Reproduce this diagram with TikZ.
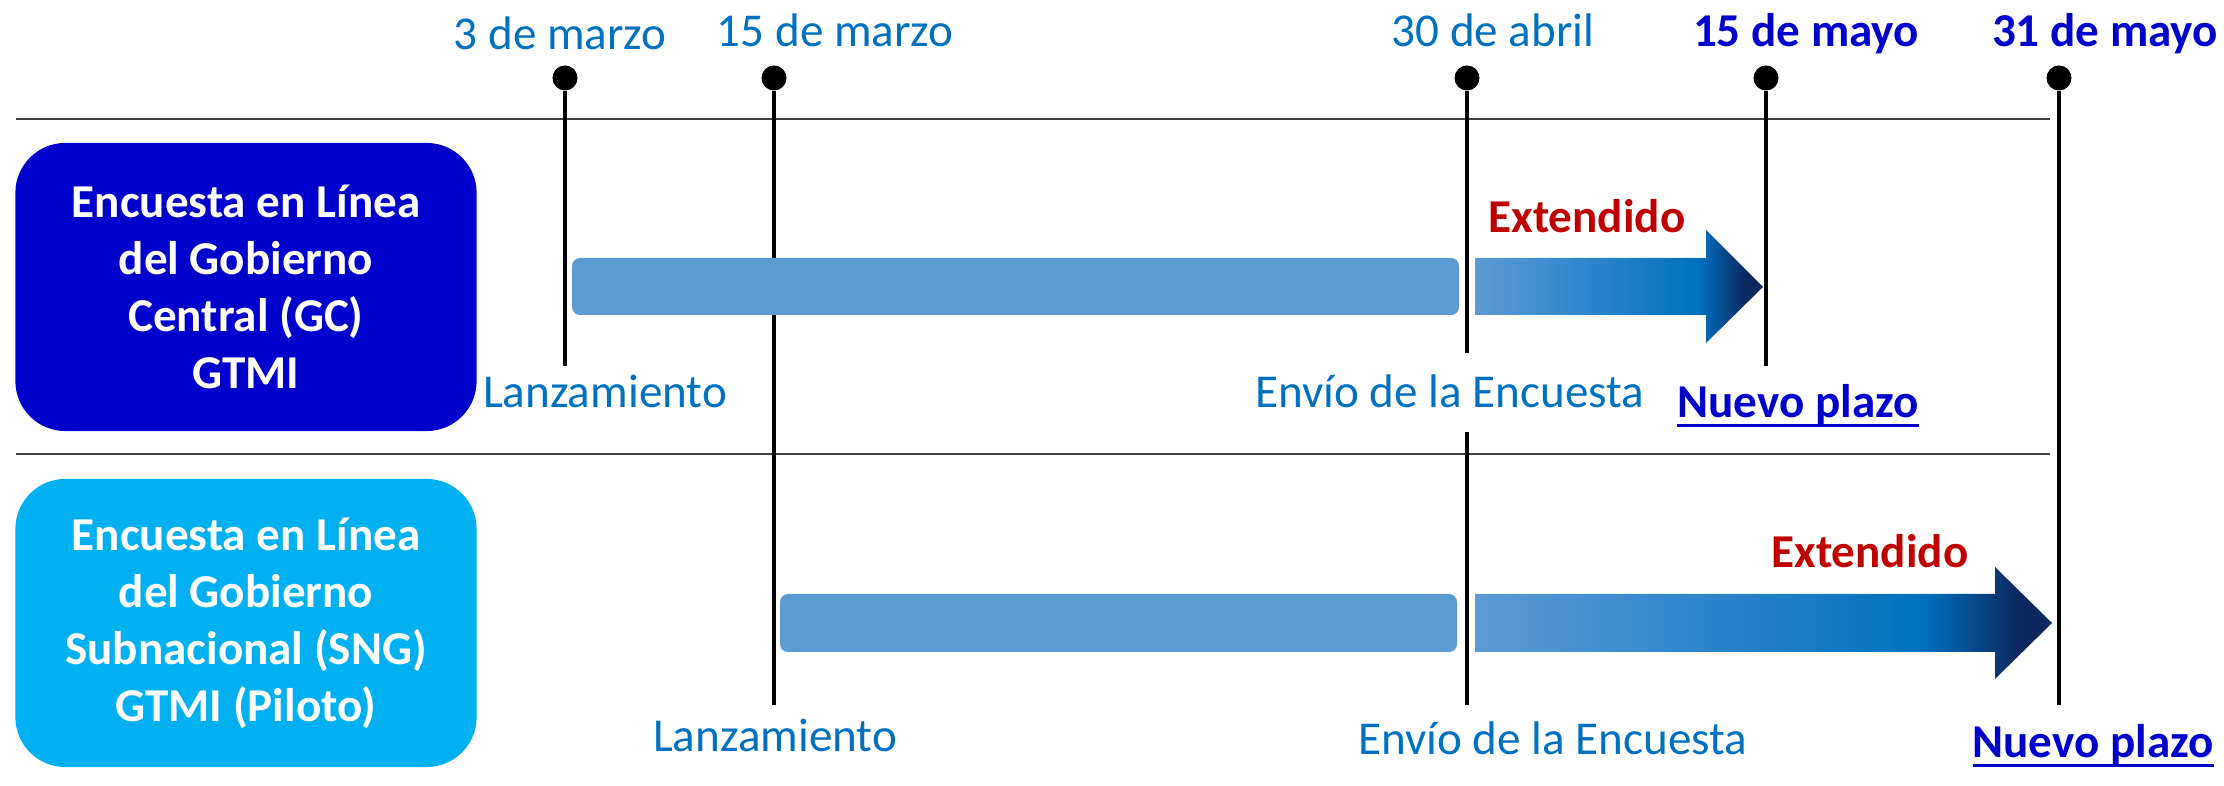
\documentclass[tikz,border=0pt]{standalone}
\usepackage{fontspec}
\setmainfont{Carlito}
\usepackage{tikz}
\definecolor{gcblue}{RGB}{0,0,204}
\definecolor{sngblue}{RGB}{0,176,240}
\definecolor{datecol}{RGB}{0,112,192}
\definecolor{barblue}{RGB}{91,155,213}
\definecolor{navy}{RGB}{12,40,94}
\definecolor{extred}{RGB}{192,0,0}
\usetikzlibrary{calc}
\newcommand*{\lblsize}{\fontsize{13.4pt}{16.2pt}\selectfont}
\newcommand*{\uln}[1]{\setbox0\hbox{#1}\rlap{\rule[-2.6pt]{\wd0}{0.9pt}}\box0}
\pgfdeclarehorizontalshading{extshade}{100bp}{color(0bp)=(barblue); color(25bp)=(barblue);
  color(64bp)=(datecol); color(72bp)=(navy); color(100bp)=(navy)}
\tikzset{%
  survey/.style={rectangle, rounded corners=5mm, minimum width=4.61cm, minimum height=2.88cm,
    text=white, align=center, font=\lblsize\bfseries},% survey boxes on the left
  pin/.style={circle, fill=black, inner sep=0pt, minimum size=2.5mm},% date marker
  tline/.style={line width=0.9pt},% date line
  sepline/.style={line width=0.6pt, draw=black!75},% row separator
  datelab/.style={anchor=base, inner sep=0pt, text=datecol, font=\lblsize},
  newdate/.style={datelab, text=gcblue, font=\lblsize\bfseries},% new deadlines
  extlab/.style={datelab, text=extred, font=\lblsize\bfseries},
  bar/.style={fill=barblue, rounded corners=0.8mm},
  extarrow/.style={shading=extshade}
}

\begin{document}
\begin{tikzpicture}[x=0.01cm, y=-0.01cm]
\useasboundingbox (0,0) rectangle (2224,786);

% row separators
\draw[sepline] (16,119) -- (2050,119);
\draw[sepline] (16,454) -- (2050,454);

% survey boxes
\node[survey, fill=gcblue] (gc) at (246,287) {Encuesta en Línea\\del Gobierno\\Central (GC)\\GTMI};
\node[survey, fill=sngblue] (sng) at (246,623) {Encuesta en Línea\\del Gobierno\\Subnacional (SNG)\\GTMI (Piloto)};

% dates
\node[datelab] (m3lab) at (560,50) {3 de marzo};
\node[datelab] (m15lab) at (835,47) {15 de marzo};
\node[datelab] (a30lab) at (1493,47) {30 de abril};
\node[newdate] (y15lab) at (1806,47) {15 de mayo};
\node[newdate] (y31lab) at (2105,47) {31 de mayo};

\node[pin] (m3) at (565,78) {};
\node[pin] (m15) at (774,78) {};
\node[pin] (a30) at (1467,78) {};
\node[pin] (y15) at (1766,78) {};
\node[pin] (y31) at (2059,78) {};

\coordinate (m3e) at (565,366);
\coordinate (m15e) at (774,705);
\coordinate (a30e) at (1467,353);
\coordinate (a30s) at (1467,432);
\coordinate (a30f) at (1467,705);
\coordinate (y15e) at (1766,366);
\coordinate (y31e) at (2059,705);

\draw[tline] (m3) -- (m3e);
\draw[tline] (m15) -- (m15e);
\draw[tline] (a30) -- (a30e);
\draw[tline] (a30s) -- (a30f);
\draw[tline] (y15) -- (y15e);
\draw[tline] (y31) -- (y31e);

% GC row
\fill[bar] (572,258) rectangle (1459,315);
\shade[extarrow] (1475,258) -- (1706,258) -- (1706,230) -- (1763,287) -- (1706,343)
  -- (1706,315) -- (1475,315) -- cycle;
\node[extlab] (ext1) at (1587,233) {Extendido};
\node[datelab] (lz1) at (605,408) {Lanzamiento};
\node[datelab] (env1) at (1450,408) {Envío de la Encuesta};
\node[newdate] (np1) at (1798,418) {\uln{Nuevo plazo}};

% SNG row
\fill[bar] (780,594) rectangle (1457,652);
\shade[extarrow] (1475,594) -- (1995,594) -- (1995,567) -- (2052,623) -- (1995,679)
  -- (1995,652) -- (1475,652) -- cycle;
\node[extlab] (ext2) at (1870,568) {Extendido};
\node[datelab] (lz2) at (775,752) {Lanzamiento};
\node[datelab] (env2) at (1553,755) {Envío de la Encuesta};
\node[newdate] (np2) at (2093,758) {\uln{Nuevo plazo}};
\end{tikzpicture}
\end{document}
